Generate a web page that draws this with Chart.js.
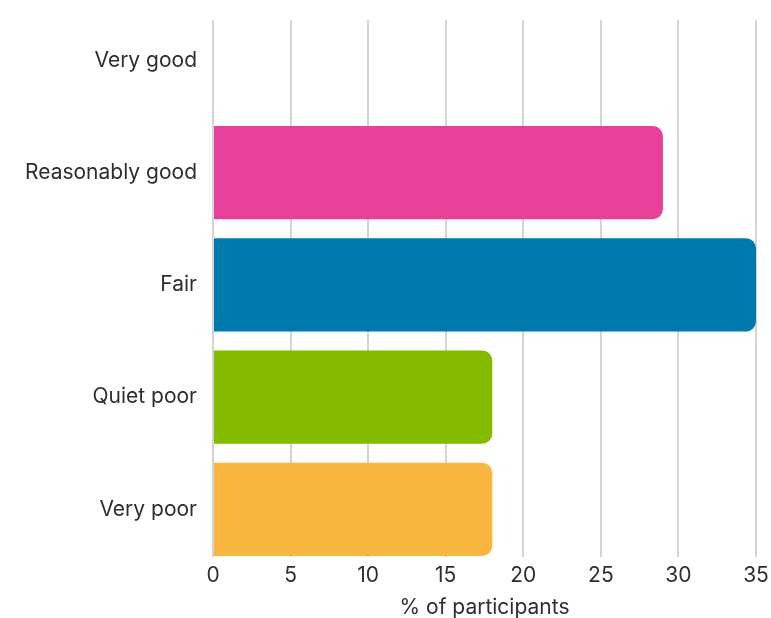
<!DOCTYPE html>
<html>
<head>
<meta charset="utf-8">
<script src="https://cdn.jsdelivr.net/npm/chart.js@4/dist/chart.umd.min.js"></script>
<style>
  html, body { margin: 0; padding: 0; background: #ffffff; }
  #wrap { width: 771px; height: 618px; }
</style>
</head>
<body>
<div id="wrap"><canvas id="c" width="771" height="618"></canvas></div>
<script>
const categories = ["Very good", "Reasonably good", "Fair", "Quiet poor", "Very poor"];
const values = [0, 29, 35, 18, 18];
const barColors = ["#E6409A", "#E6409A", "#0079AD", "#84BA00", "#F8B63E"];
const xTicks = [0, 5, 10, 15, 20, 25, 30, 35];
const axisTitle = "% of participants";

const FONT = "Inter, sans-serif";
const TEXT = "#2e2e2e";
const Y_MIN = -0.36, Y_MAX = 4.425;

new Chart(document.getElementById("c"), {
  type: "bar",
  data: {
    datasets: [{
      data: values.map((v, i) => ({ x: v, y: i })),
      backgroundColor: barColors,
      borderRadius: 10,
      borderSkipped: "start",
      barPercentage: 0.83,
      categoryPercentage: 1
    }]
  },
  options: {
    indexAxis: "y",
    responsive: false,
    animation: false,
    layout: { padding: { top: 20, right: 15, left: 0, bottom: 0 } },
    plugins: { legend: { display: false }, tooltip: { enabled: false } },
    scales: {
      x: {
        type: "linear",
        position: "bottom",
        min: 0,
        max: 35,
        afterBuildTicks: (s) => { s.ticks = xTicks.map(v => ({ value: v })); s.min = 0; s.max = 35; },
        grid: { color: "#d4d4d4", lineWidth: 2, drawTicks: false },
        border: { display: false },
        ticks: { color: TEXT, padding: 6, font: { family: FONT, size: 21 } },
        title: {
          display: true, text: axisTitle, color: TEXT,
          font: { family: FONT, size: 21, lineHeight: 1.0 },
          padding: { top: 0, bottom: 0 }
        },
        afterFit: (s) => { s.height = 61; s.paddingLeft = 0; s.paddingRight = 0; }
      },
      y: {
        type: "linear",
        reverse: true,
        offset: false,
        bounds: "data",
        min: Y_MIN,
        max: Y_MAX,
        afterBuildTicks: (s) => { s.ticks = categories.map((c, i) => ({ value: i })); s.min = Y_MIN; s.max = Y_MAX; },
        grid: { display: false, drawTicks: false, offset: false },
        border: { display: false },
        ticks: {
          color: TEXT, padding: 16, font: { family: FONT, size: 21 },
          callback: (v) => categories[v] !== undefined ? categories[v] : ""
        },
        afterFit: (s) => { s.width = 213; s.paddingTop = 0; s.paddingBottom = 0; }
      }
    }
  }
});
</script>
</body>
</html>
